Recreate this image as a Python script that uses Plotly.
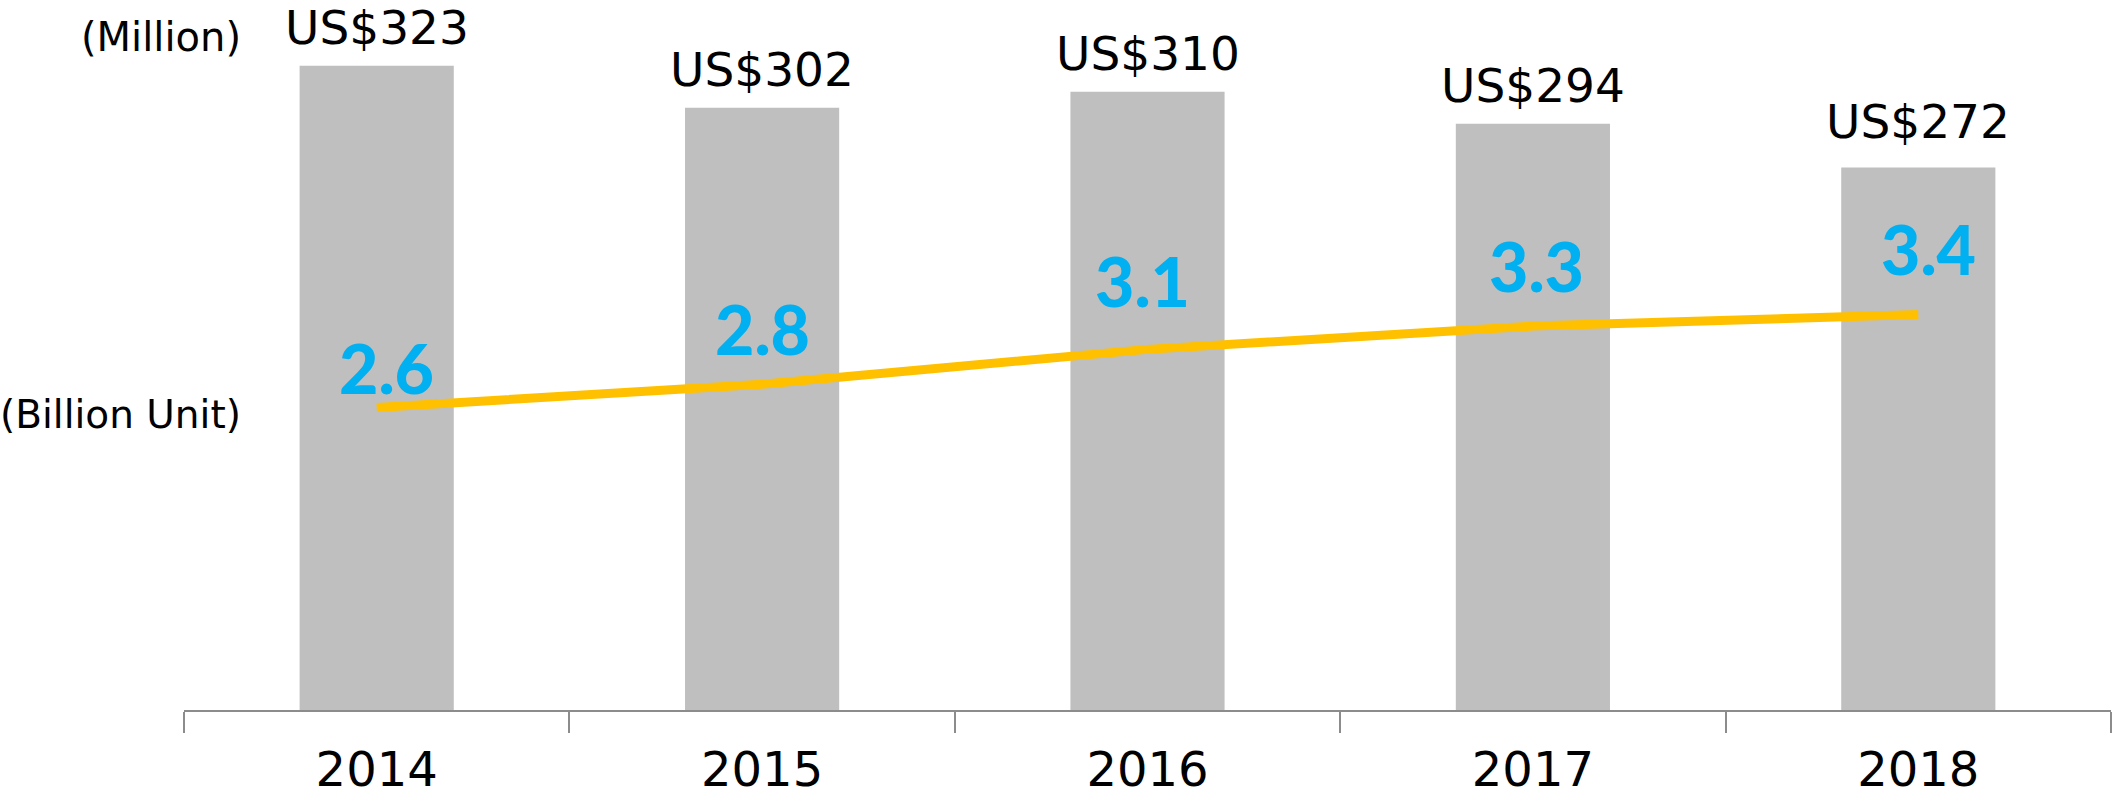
import plotly.graph_objects as go

years = ["2014", "2015", "2016", "2017", "2018"]
revenue_musd = [323, 302, 310, 294, 272]          # bars, US$ million
units_billion = [2.6, 2.8, 3.1, 3.3, 3.4]         # line, billion units
revenue_labels = ["US$323", "US$302", "US$310", "US$294", "US$272"]
unit_labels = ["2.6", "2.8", "3.1", "3.3", "3.4"]

# label offsets (pixels) - styling only
rev_label_shift = [39, 39, 39, 39, 47]
unit_label_dx = [10, 0, -5, 4, 10]
unit_label_dy = [38, 54, 67, 59, 64]

BAR_COLOR = "#BFBFBF"
LINE_COLOR = "#FFC000"
LABEL_BLUE = "#00B0F0"
AXIS_GRAY = "#8C8C8C"

fig = go.Figure()
fig.add_trace(go.Bar(
    x=years, y=revenue_musd, marker=dict(color=BAR_COLOR, line=dict(width=0)),
    yaxis="y", showlegend=False, hoverinfo="skip",
))
fig.add_trace(go.Scatter(
    x=years, y=units_billion, mode="lines", yaxis="y2",
    line=dict(color=LINE_COLOR, width=9), showlegend=False, hoverinfo="skip",
))

annotations = []
for i, (v, t, s) in enumerate(zip(revenue_musd, revenue_labels, rev_label_shift)):
    annotations.append(dict(
        x=i, y=v, xref="x", yref="y", text=t, showarrow=False,
        yanchor="middle", xanchor="center", yshift=s - 1,
        font=dict(family="DejaVu Sans", size=47, color="black"),
    ))
for i, (v, t, dx, dy) in enumerate(zip(units_billion, unit_labels, unit_label_dx, unit_label_dy)):
    annotations.append(dict(
        x=i, y=v, xref="x", yref="y2", text=t, showarrow=False,
        yanchor="middle", xanchor="center", xshift=dx, yshift=dy + 2,
        font=dict(family="Lato", size=68, color=LABEL_BLUE, weight=900),
    ))

W, H = 2116, 798
PX_L, PX_R, PX_T, PX_B = 184, 2111, 12, 710
L, R, T, B = PX_L, W - PX_R, PX_T, H - PX_B

def paper_x(px):
    return (px - PX_L) / (PX_R - PX_L)

def paper_y(py):
    return (PX_B - py) / (PX_B - PX_T)

annotations.append(dict(
    x=paper_x(243), y=paper_y(37), xref="paper", yref="paper", text="(Million)", showarrow=False,
    xanchor="right", yanchor="middle",
    font=dict(family="DejaVu Sans", size=40, color="black"),
))
annotations.append(dict(
    x=paper_x(243), y=paper_y(414), xref="paper", yref="paper", text="(Billion Unit)", showarrow=False,
    xanchor="right", yanchor="middle",
    font=dict(family="DejaVu Sans", size=39, color="black"),
))

hidden_axis = dict(showticklabels=False, showline=False, ticks="", showgrid=False,
                   zeroline=False, automargin=False)

fig.update_layout(
    width=W, height=H,
    margin=dict(l=L, r=R, t=T, b=B, pad=0, autoexpand=False),
    paper_bgcolor="white", plot_bgcolor="white",
    bargap=0.6,
    xaxis=dict(
        type="category", range=[-0.5, 4.5], automargin=False,
        showline=True, linecolor=AXIS_GRAY, linewidth=1.5,
        ticks="outside", tickson="boundaries", ticklen=21, tickcolor=AXIS_GRAY, tickwidth=1.5,
        ticklabelstandoff=17,
        tickfont=dict(family="DejaVu Sans", size=48, color="black"),
        showgrid=False, zeroline=False,
    ),
    yaxis=dict(range=[0, 350], **hidden_axis),
    yaxis2=dict(range=[0, 6], overlaying="y", side="right", **hidden_axis),
    annotations=annotations,
)

fig.write_html("out.html", config={"displayModeBar": False},
               post_script="document.body.style.margin='0px';")
